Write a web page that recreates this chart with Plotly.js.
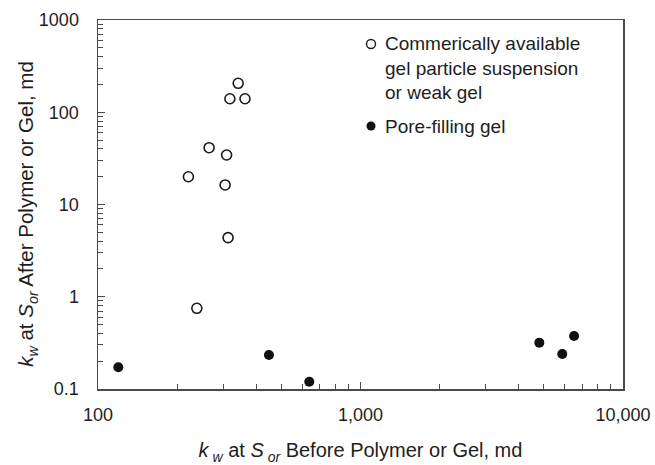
<!DOCTYPE html>
<html>
<head>
<meta charset="utf-8">
<script src="https://cdn.plot.ly/plotly-3.0.1.min.js"></script>
<style>html,body{margin:0;padding:0;background:#fff;}#chart{width:655px;height:465px;}</style>
</head>
<body>
<div id="chart"></div>
<script>
// Commercially available gel particle suspension or weak gel
const weakGelBefore = [342, 318, 363, 265, 309, 221, 305, 313, 238];
const weakGelAfter  = [206, 140, 140, 41.3, 34.4, 20.0, 16.3, 4.37, 0.75];
// Pore-filling gel
const poreGelBefore = [119.5, 448, 638, 4800, 5870, 6510];
const poreGelAfter  = [0.172, 0.234, 0.12, 0.318, 0.24, 0.376];

const xTickVals = [100, 1000, 10000];
const xTickText = ["100", "1,000", "10,000"];
const yTickVals = [0.1, 1, 10, 100, 1000];
const yTickText = ["0.1", "1", "10", "100", "1000"];

const seriesNames = [
  "Commerically available<br>gel particle suspension<br>or weak gel",
  "Pore-filling gel"
];
const xTitle = "<i>k</i><sub> <i>w</i></sub> at <i>S</i><sub> <i>or</i></sub> Before Polymer or Gel, md";
const yTitle = "<i>k</i><sub><i>w</i></sub> at <i>S</i><sub><i>or</i></sub> After Polymer or Gel, md";

const FONT = "Arial, 'Liberation Sans', sans-serif";
const AXC = "#4a4a4a";
const TXT = "#1e1e1e";

function minorVals(lo, hi) {
  const out = [];
  for (let e = lo; e < hi; e++) for (let d = 2; d <= 9; d++) out.push(d * Math.pow(10, e));
  return out;
}

const traces = [
  {
    x: weakGelBefore, y: weakGelAfter, type: "scatter", mode: "markers",
    name: seriesNames[0], showlegend: false,
    marker: {symbol: "circle-open", size: 10, color: "#1a1a1a", line: {width: 1.6, color: "#1a1a1a"}}
  },
  {
    x: poreGelBefore, y: poreGelAfter, type: "scatter", mode: "markers",
    name: seriesNames[1], showlegend: false,
    marker: {symbol: "circle", size: 10, color: "#111111", line: {width: 0}}
  }
];

const axisCommon = {
  type: "log",
  showgrid: false,
  zeroline: false,
  showline: true,
  linecolor: AXC,
  linewidth: 1.5,
  mirror: true,
  ticks: "inside",
  ticklen: 7,
  tickwidth: 1,
  tickcolor: AXC,
  tickfont: {family: FONT, size: 18, color: TXT},
  tickmode: "array"
};

// legend drawn as annotations + shapes (paper coordinates)
const legTextX = 0.543, legMarkX = 0.52;
const legY1 = 0.8707, legY2 = 0.7127, legMark1 = 0.935;

const layout = {
  width: 655, height: 465,
  margin: {l: 98, r: 32, t: 20, b: 76},
  paper_bgcolor: "#fff", plot_bgcolor: "#fff",
  font: {family: FONT, color: TXT},
  showlegend: false,
  xaxis: Object.assign({}, axisCommon, {
    range: [2, 4],
    tickvals: xTickVals, ticktext: xTickText,
    ticklabelstandoff: 9,
    minor: {tickmode: "array", tickvals: minorVals(2, 4), ticks: "inside", ticklen: 5, tickwidth: 1, tickcolor: AXC, showgrid: false},
    title: {text: xTitle, font: {family: FONT, size: 20, color: TXT}, standoff: 19}
  }),
  yaxis: Object.assign({}, axisCommon, {
    range: [-1, 3],
    tickvals: yTickVals, ticktext: yTickText,
    ticklabelstandoff: 14,
    minor: {tickmode: "array", tickvals: minorVals(-1, 3), ticks: "inside", ticklen: 5, tickwidth: 1, tickcolor: AXC, showgrid: false}
  }),
  annotations: [
    {xref: "paper", yref: "paper", x: -0.135, y: 0.475, xanchor: "center", yanchor: "middle",
     textangle: -90, showarrow: false, text: yTitle,
     font: {family: FONT, size: 20.5, color: TXT}},
    {xref: "paper", yref: "paper", x: legTextX, y: legY1, xanchor: "left", yanchor: "middle",
     align: "left", showarrow: false, text: seriesNames[0],
     font: {family: FONT, size: 19, color: TXT}},
    {xref: "paper", yref: "paper", x: legTextX, y: legY2, xanchor: "left", yanchor: "middle",
     align: "left", showarrow: false, text: seriesNames[1],
     font: {family: FONT, size: 19, color: TXT}}
  ],
  shapes: [
    {type: "circle", xref: "paper", yref: "paper", xsizemode: "pixel", ysizemode: "pixel",
     xanchor: legMarkX, yanchor: legMark1, x0: -4.5, x1: 4.5, y0: -4.5, y1: 4.5,
     line: {color: "#1a1a1a", width: 1.4}, fillcolor: "rgba(0,0,0,0)"},
    {type: "circle", xref: "paper", yref: "paper", xsizemode: "pixel", ysizemode: "pixel",
     xanchor: legMarkX, yanchor: legY2, x0: -4.5, x1: 4.5, y0: -4.5, y1: 4.5,
     line: {color: "#111", width: 0}, fillcolor: "#111"}
  ]
};

Plotly.newPlot("chart", traces, layout, {displayModeBar: false, staticPlot: true});
</script>
</body>
</html>
